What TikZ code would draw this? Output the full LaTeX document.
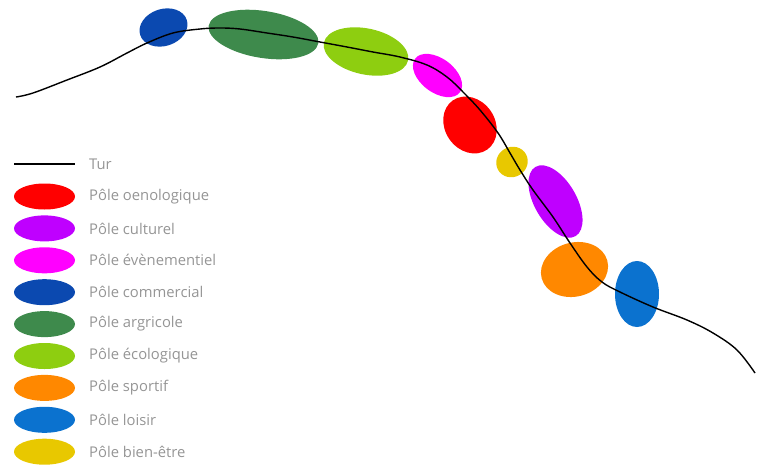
\documentclass[tikz,border=0pt]{standalone}
\usepackage{fontspec}
\setmainfont{Open Sans}
\usetikzlibrary{shapes.geometric}

\definecolor{oeno}{HTML}{FF0000}
\definecolor{cult}{HTML}{BF00FF}
\definecolor{even}{HTML}{FF00FF}
\definecolor{comm}{HTML}{0B49B0}
\definecolor{agri}{HTML}{3E8A4C}
\definecolor{ecol}{HTML}{8ECE10}
\definecolor{spor}{HTML}{FF8800}
\definecolor{lois}{HTML}{0B72CF}
\definecolor{bien}{HTML}{E8C800}
\definecolor{legtext}{HTML}{959595}

\tikzset{
  pole/.style={ellipse, inner sep=0pt, draw=none},
  legtxt/.style={anchor=west, text=legtext, font=\fontsize{14.8}{16}\selectfont, inner sep=0pt}
}

\begin{document}
\begin{tikzpicture}[x=1pt, y=-1pt]
\useasboundingbox (0,0) rectangle (761,464);
% poles along the road
\node[pole, fill=comm, minimum width=49, minimum height=37, rotate=18] (commercial) at (163.5,27.5) {};
\node[pole, fill=agri, minimum width=111, minimum height=47, rotate=-9] (agricole) at (263.5,34.5) {};
\node[pole, fill=ecol, minimum width=86, minimum height=46, rotate=-12] (ecologique) at (366,51.5) {};
\node[pole, fill=even, minimum width=56, minimum height=34, rotate=-37] (evenement) at (437.5,75.5) {};
\node[pole, fill=oeno, minimum width=60, minimum height=50, rotate=-55] (oenologique) at (470,125) {};
\node[pole, fill=bien, minimum width=32, minimum height=30, rotate=30] (bienetre) at (512,162) {};
\node[pole, fill=cult, minimum width=80, minimum height=42, rotate=-60] (culturel) at (555.5,201.5) {};
\node[pole, fill=spor, minimum width=68, minimum height=54, rotate=15] (sportif) at (574.5,269.5) {};
\node[pole, fill=lois, minimum width=44, minimum height=66] (loisir) at (637,294) {};
% the road
\draw[line width=1.4pt] plot[smooth, tension=0.6] coordinates {
  (16,97) (33,93) (67,80) (100,67) (127,53) (147,43) (173,33) (200,29) (220,28)
  (240,29) (267,33) (293,37) (320,42) (347,47) (373,52) (400,57) (427,65)
  (447,77) (463,92) (480,110) (498,133) (510,153) (520,170) (533,190)
  (553,217) (570,243) (587,267) (602,282) (620,292) (653,307) (687,320)
  (713,333) (737,350) (755,373)};
% legend
\coordinate (tura) at (14,164);
\coordinate (turb) at (75,164);
\draw[line width=2pt] (tura) -- (turb);
\node[legtxt] (tur) at (89,164) {Tur};
\foreach \col/\txt [count=\i] in {oeno/oenologique, cult/culturel, even/évènementiel,
  comm/commercial, agri/argricole, ecol/écologique, spor/sportif, lois/loisir, bien/bien-être} {
  \node[pole, fill=\col, minimum width=61, minimum height=26] (leg\i) at (44.5,{196.5+31.9*(\i-1)}) {};
  \node[legtxt] (lab\i) at (89,{196.5+31.9*(\i-1)}) {Pôle \txt};
}
\end{tikzpicture}
\end{document}
